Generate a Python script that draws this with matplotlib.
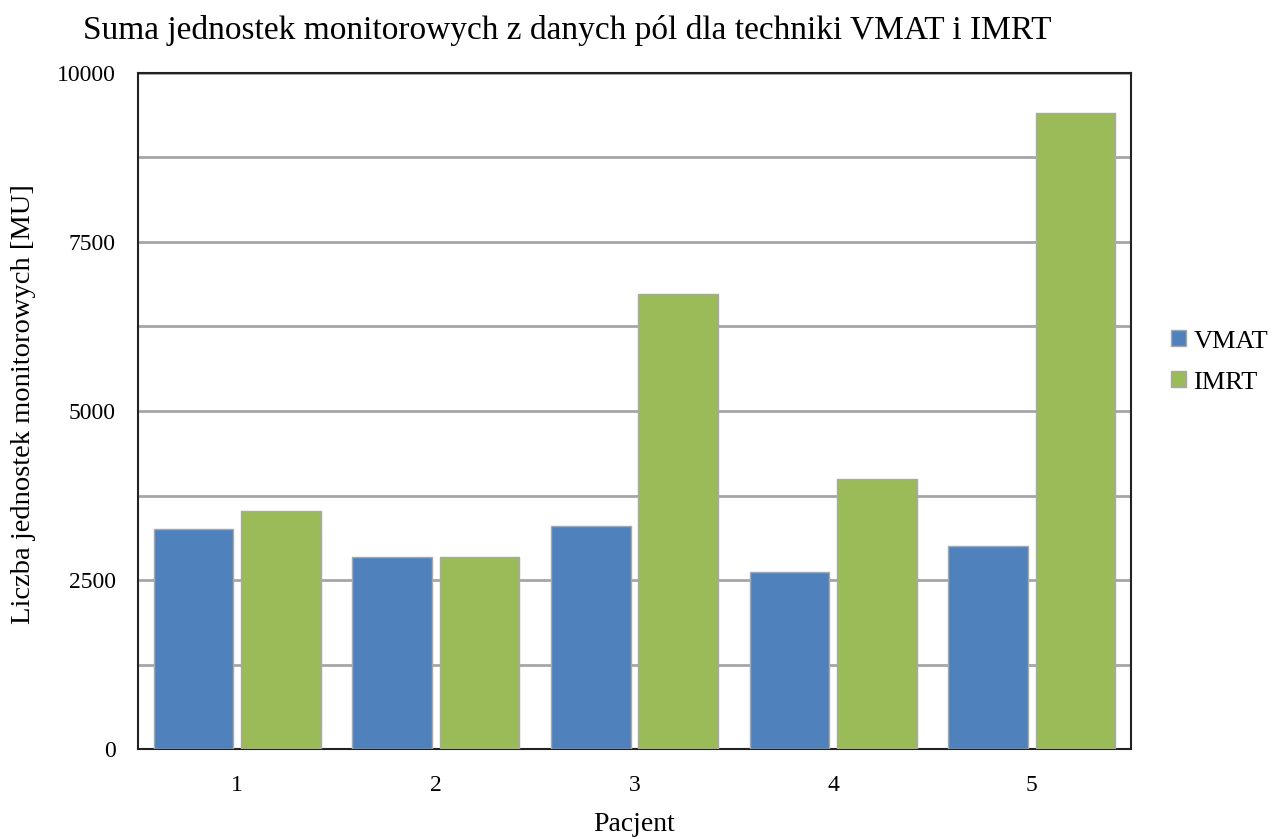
import matplotlib
matplotlib.use("Agg")
import matplotlib.pyplot as plt
import numpy as np

# Monitor units per patient for both techniques
patients = ["1", "2", "3", "4", "5"]
vmat_mu = [3254, 2836, 3303, 2614, 3007]
imrt_mu = [3525, 2836, 6731, 3994, 9408]
y_ticks = [0, 2500, 5000, 7500, 10000]

plt.rcParams["font.family"] = ["Liberation Serif", "DejaVu Serif"]

fig = plt.figure(figsize=(12.76, 8.39), dpi=100)
ax = fig.add_axes([138 / 1276, 1 - 749 / 839, (1131 - 138) / 1276, (749 - 73) / 839])

x = np.arange(len(patients))
width = 0.40
gap = 0.04
ax.bar(x - (width + gap) / 2, vmat_mu, width, color="#4F81BD", edgecolor="#A8A8A8",
       linewidth=1, label="VMAT", zorder=3)
ax.bar(x + (width + gap) / 2, imrt_mu, width, color="#9BBB59", edgecolor="#A8A8A8",
       linewidth=1, label="IMRT", zorder=3)

ax.set_xlim(-0.5, len(patients) - 0.5)
ax.set_ylim(0, 10000)
ax.set_xticks(x)
ax.set_xticklabels(patients)
ax.set_yticks(y_ticks)
ax.set_yticks(np.arange(0, 10001, 1250), minor=True)
ax.tick_params(axis="both", which="both", length=0, labelsize=17)
ax.tick_params(axis="y", pad=16)
ax.tick_params(axis="x", pad=19)
ax.grid(axis="y", which="both", color="#A6A6A6", linewidth=2, zorder=0)

for side in ax.spines.values():
    side.set_color("#222222")
    side.set_linewidth(1.5)

ax.set_xlabel("Pacjent", fontsize=20, labelpad=11)
ax.set_ylabel("Liczba jednostek monitorowych [MU]", fontsize=20.5)
ax.yaxis.set_label_coords((36 - 138) / 993, 0.51)

fig.text(567 / 1276, 1 - 30 / 839,
         "Suma jednostek monitorowych z danych pól dla techniki VMAT i IMRT",
         ha="center", va="center", fontsize=24)

ax.legend(loc="center left", bbox_to_anchor=(1171 / 1276, 1 - 362 / 839),
          bbox_transform=fig.transFigure, frameon=False, fontsize=19,
          borderpad=0, borderaxespad=0,
          handlelength=0.55, handleheight=0.55, handletextpad=0.3, labelspacing=0.7)

fig.savefig("out.png", dpi=100)
